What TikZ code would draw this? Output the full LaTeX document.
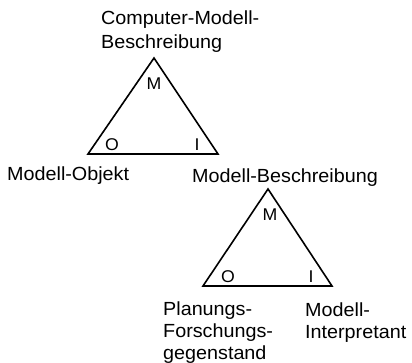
\documentclass[tikz,border=0pt]{standalone}
\usepackage{fontspec}
\setmainfont{Liberation Sans}[FakeStretch=1.04]
\begin{document}
\begin{tikzpicture}[x=1pt,y=-1pt,
  side/.style={line width=1.6pt,line join=miter},
  % multi-line captions are anchored on the baseline of their last line
  caption/.style={anchor=base west,inner sep=0pt,align=left,
    font=\fontsize{19}{24}\selectfont},
  tight/.style={font=\fontsize{19}{22}\selectfont},
  corner/.style={anchor=base,inner sep=0pt,font=\fontsize{17}{20}\selectfont}]
\useasboundingbox (0,0) rectangle (412,363);

% upper triangle
\coordinate (m1) at (154,58);
\coordinate (o1) at (88,154);
\coordinate (i1) at (218,154);
\draw[side] (m1) -- (o1) -- (i1) -- cycle;
\node[corner] (m1l) at (154,90) {M};
\node[corner] (o1l) at (112,151) {O};
\node[corner] (i1l) at (197,151) {I};

\node[caption] (top) at (101,49) {Computer-Modell-\\Beschreibung};
\node[caption] (obj) at (7,181) {Modell-Objekt};
\node[caption] (desc) at (192,183) {Modell-Beschreibung};

% lower triangle
\coordinate (m2) at (268,189);
\coordinate (o2) at (203,286);
\coordinate (i2) at (332,286);
\draw[side] (m2) -- (o2) -- (i2) -- cycle;
\node[corner] (m2l) at (270,221) {M};
\node[corner] (o2l) at (228,282) {O};
\node[corner] (i2l) at (311,282) {I};

\node[caption,tight] (plan) at (163,359) {Planungs-\\Forschungs-\\gegenstand};
\node[caption,tight] (interp) at (305,338) {Modell-\\Interpretant};
\end{tikzpicture}
\end{document}
